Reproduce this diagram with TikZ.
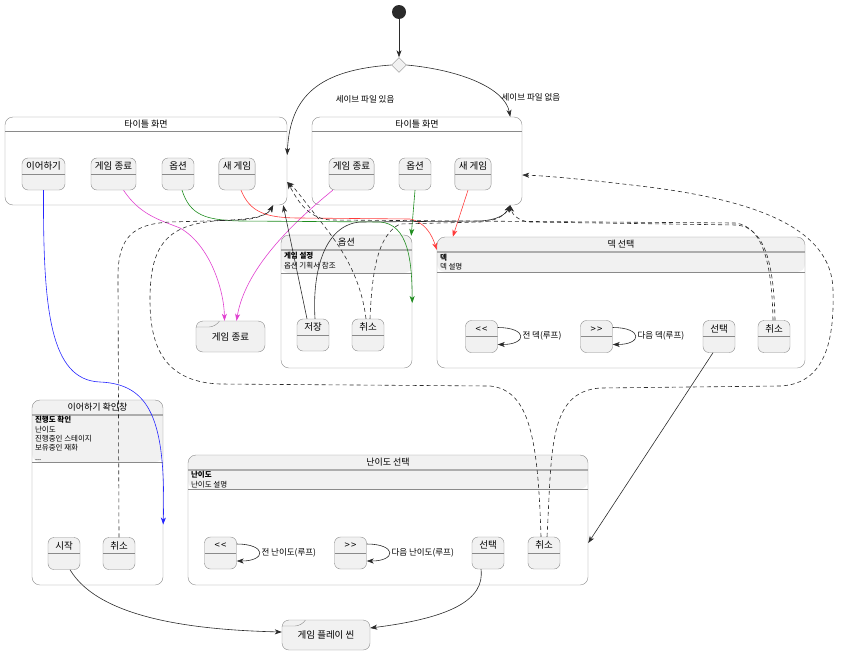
\documentclass[tikz,border=0pt]{standalone}
\usepackage{fontspec}
\setmainfont{Noto Sans CJK KR}
\usepackage{xcolor}
\usetikzlibrary{positioning,arrows.meta,shapes.geometric}

\definecolor{stfill}{HTML}{F1F1F1}
\definecolor{stline}{HTML}{8A8A8A}
\definecolor{lnk}{HTML}{2B2B2B}
\definecolor{lnkblue}{HTML}{2626FF}
\definecolor{lnkpink}{HTML}{E040D0}
\definecolor{lnkgreen}{HTML}{1E8C1E}
\definecolor{lnkred}{HTML}{FF3B3B}

\begin{document}
\begin{tikzpicture}[x=1pt, y=-1pt, >={Stealth[length=7pt,width=5pt,inset=2pt]},
  st/.style={draw=stline, fill=stfill, rounded corners=6pt, font=\fontsize{9.5}{11}\selectfont,
    text height=9.5pt, text depth=18.5pt, inner xsep=4pt, inner ysep=2pt, minimum width=32pt,
    path picture={\draw[stline] (path picture bounding box.west) -- (path picture bounding box.east);}},
  grp/.style={draw=stline, rounded corners=8pt, inner sep=0pt},
  titlebar/.style={path picture={\draw[stline] ([yshift=-14pt]path picture bounding box.north west) -- ([yshift=-14pt]path picture bounding box.north east);}},
  hdr/.style={path picture={
    \fill[stfill] (path picture bounding box.north west) rectangle ([yshift=-#1]path picture bounding box.north east);
    \draw[stline!70] ([yshift=-14pt]path picture bounding box.north west) -- ([yshift=-14pt]path picture bounding box.north east);
    \draw[stline!70] ([yshift=-15.5pt]path picture bounding box.north west) -- ([yshift=-15.5pt]path picture bounding box.north east);
    \draw[stline] ([yshift=-#1]path picture bounding box.north west) -- ([yshift=-#1]path picture bounding box.north east);}},
  grptitle/.style={font=\fontsize{9}{10}\selectfont, inner sep=1pt},
  desc/.style={font=\fontsize{7.5}{9.3}\selectfont, align=left, anchor=north west, inner sep=0pt},
  lbl/.style={font=\fontsize{8.5}{10}\selectfont, inner sep=1pt},
  scene/.style={draw=stline, fill=stfill, rounded corners=7pt, font=\fontsize{9.5}{11}\selectfont, inner sep=0pt,
    path picture={\draw[stline] ([yshift=-6pt]path picture bounding box.north west) -- ++(20,0) -- ++(4,-7);}},
  startdot/.style={circle, fill=lnk, minimum size=14pt, inner sep=0pt},
  choice/.style={diamond, draw=stline, fill=stfill, minimum size=15pt, inner sep=0pt},
  tr/.style={draw=lnk, ->, line width=0.6pt},
  trback/.style={tr, dash pattern=on 4pt off 3pt}]
\useasboundingbox (0,0) rectangle (850,653);

% start + choice
\node[startdot] (start) at (399,12) {};
\node[choice] (pick) at (399,65) {};

% title screens
\node[grp, titlebar, minimum width=282pt, minimum height=88pt] (title1) at (146,161) {};
\node[grptitle] (title1name) at ([yshift=-7pt]title1.north) {타이틀 화면};
\node[st] (t1cont) at (43.5,174) {이어하기};
\node[st] (t1quit) at (113.5,174) {게임 종료};
\node[st] (t1opt) at (178,174) {옵션};
\node[st] (t1new) at (237,174) {새 게임};

\node[grp, titlebar, minimum width=210pt, minimum height=88pt] (title2) at (417,161) {};
\node[grptitle] (title2name) at ([yshift=-7pt]title2.north) {타이틀 화면};
\node[st] (t2quit) at (351.5,174) {게임 종료};
\node[st] (t2opt) at (415,174) {옵션};
\node[st] (t2new) at (473,174) {새 게임};

% options
\node[grp, hdr=38pt, minimum width=131pt, minimum height=133pt] (opt) at (346.5,301.5) {};
\node[grptitle] (optname) at ([yshift=-7pt]opt.north) {옵션};
\node[desc] (optdesc) at ([shift={(3pt,-17.5pt)}]opt.north west) {\textbf{게임 설정}\\옵션 기획서 참조};
\node[st] (osave) at (313,335) {저장};
\node[st] (ocnc) at (368,335) {취소};

% game over
\node[scene, minimum width=69pt, minimum height=31pt] (gameover) at (230.5,336.5) {게임 종료};

% deck select
\node[grp, hdr=35pt, minimum width=368pt, minimum height=131pt] (deck) at (621,302.5) {};
\node[grptitle] (deckname) at ([yshift=-7pt]deck.north) {덱 선택};
\node[desc] (deckdesc) at ([shift={(3pt,-17pt)}]deck.north west) {\textbf{덱}\\덱 설명};
\node[st] (dkprev) at (481.5,336.5) {<\kern1pt<};
\node[st] (dknext) at (596.5,336.5) {>\kern1pt>};
\node[st] (dksel) at (719,336.5) {선택};
\node[st] (dkcnc) at (774,336.5) {취소};

% continue confirm
\node[grp, hdr=62pt, minimum width=131pt, minimum height=185pt] (confirm) at (97.5,492.5) {};
\node[grptitle] (confirmname) at ([yshift=-7pt]confirm.north) {이어하기 확인창};
\node[desc] (confirmdesc) at ([shift={(3pt,-16.5pt)}]confirm.north west) {\textbf{진행도 확인}\\난이도\\진행중인 스테이지\\보유중인 재화\\...};
\node[st] (cstart) at (64,553.5) {시작};
\node[st] (ccnc) at (119,553.5) {취소};

% difficulty select
\node[grp, hdr=34pt, minimum width=400pt, minimum height=130pt] (diff) at (388,520) {};
\node[grptitle] (diffname) at ([yshift=-7pt]diff.north) {난이도 선택};
\node[desc] (diffdesc) at ([shift={(3pt,-16.5pt)}]diff.north west) {\textbf{난이도}\\난이도 설명};
\node[st] (dfprev) at (220.5,553) {<\kern1pt<};
\node[st] (dfnext) at (350.5,553) {>\kern1pt>};
\node[st] (dfsel) at (488,553) {선택};
\node[st] (dfcnc) at (544,553) {취소};

% game play
\node[scene, minimum width=88pt, minimum height=30pt] (gameplay) at (326,635) {게임 플레이 씬};

% transitions
\draw[tr] (start) -- (pick);
\draw[tr] (pick.west) .. controls (320,70) and (290,95) .. ([yshift=6pt]title1.east)
  node[lbl, pos=0.6, right=30pt] (savelbl) {세이브 파일 있음};
\draw[tr] (pick.east) .. controls (460,70) and (505,88) .. ([xshift=-12pt]title2.north east)
  node[lbl, pos=0.75, right=1pt] (nosavelbl) {세이브 파일 없음};

\draw[tr, draw=lnkblue] (t1cont.south) .. controls (43,310) and (50,380) .. (100,382)
  .. controls (150,384) and (166,420) .. ([yshift=-32pt]confirm.east);
\draw[tr, draw=lnkpink] ([xshift=10pt]t1quit.south) .. controls (140,215) and (160,220) .. (180,228)
  .. controls (210,245) and (224,290) .. ([xshift=-6pt]gameover.north);
\draw[tr, draw=lnkpink] ([xshift=4pt]t2quit.south west) .. controls (290,225) and (245,270) .. ([xshift=6pt]gameover.north);
\draw[tr, draw=lnkgreen] ([xshift=4pt]t1opt.south) .. controls (190,215) and (205,220) .. (240,221) -- (380,222)
  .. controls (408,224) and (412,260) .. ([yshift=-1.5pt]opt.east);
\draw[tr, draw=lnkgreen] (t2opt.south) -- ([xshift=-1pt,yshift=-1pt]opt.north east);
\draw[tr, draw=lnkred] ([xshift=4pt]t1new.south) .. controls (250,212) and (265,218) .. (300,218) -- (410,219)
  .. controls (425,222) and (432,235) .. ([yshift=-13pt]deck.north west);
\draw[tr, draw=lnkred] ([xshift=-5pt]t2new.south) -- ([xshift=16pt]deck.north west);

\draw[tr] ([xshift=-6pt]osave.north) -- ([xshift=-4pt]title1.south east);
\draw[tr] ([xshift=2pt]osave.north) .. controls (312,270) and (325,225) .. (360,222) -- (480,221)
  .. controls (497,220) and (505,215) .. ([xshift=-12pt]title2.south east);
\draw[trback] ([xshift=-2pt]ocnc.north) .. controls (360,270) and (335,240) .. (318,218)
  .. controls (305,202) and (295,188) .. ([yshift=-21pt]title1.east);
\draw[trback] ([xshift=2pt]ocnc.north) .. controls (372,270) and (378,235) .. (400,224) -- (480,222)
  .. controls (497,221) and (505,215) .. ([xshift=-12pt]title2.south east);

\draw[trback] ([xshift=-1pt]dkcnc.north) .. controls (772,270) and (765,226) .. (735,223) -- (330,220)
  .. controls (305,218) and (295,195) .. ([yshift=-21pt]title1.east);
\draw[trback] ([xshift=1pt]dkcnc.north) .. controls (774,270) and (767,228) .. (737,225) -- (530,222)
  .. controls (518,221) and (512,214) .. ([xshift=-12pt]title2.south east);
\draw[tr] ([xshift=-6pt]dksel.south) -- ([yshift=-23pt]diff.east);

\draw[trback] (ccnc.north) -- (118,280) .. controls (117,235) and (135,224) .. (170,222) -- (240,220)
  .. controls (258,219) and (268,214) .. ([xshift=-14pt]title1.south east);
\draw[trback] ([xshift=-3pt]dfcnc.north) .. controls (538,440) and (530,390) .. (490,386) -- (220,384)
  .. controls (160,382) and (150,340) .. (150,300) .. controls (150,240) and (170,222) .. (230,220)
  .. controls (255,219) and (268,215) .. ([xshift=-14pt]title1.south east);
\draw[trback] ([xshift=3pt]dfcnc.north) .. controls (552,450) and (548,392) .. (600,388) -- (780,386)
  .. controls (830,384) and (834,330) .. (833,290) .. controls (832,230) and (760,200) .. (640,186)
  .. controls (590,180) and (550,176) .. ([yshift=-14pt]title2.east);

\draw[tr] ([xshift=6pt]cstart.south) .. controls (100,620) and (200,630) .. ([yshift=3pt]gameplay.west);
\draw[tr] ([xshift=-7pt]dfsel.south) .. controls (485,600) and (450,618) .. ([yshift=7pt]gameplay.east);

% self loops
\draw[tr] ([yshift=9pt]dkprev.east) .. controls +(30,0) and +(30,0) .. ([yshift=-8pt]dkprev.east)
  node[lbl, pos=0.5, right=1pt] (dkprevlbl) {전 덱(루프)};
\draw[tr] ([yshift=9pt]dknext.east) .. controls +(30,0) and +(30,0) .. ([yshift=-8pt]dknext.east)
  node[lbl, pos=0.5, right=1pt] (dknextlbl) {다음 덱(루프)};
\draw[tr] ([yshift=9pt]dfprev.east) .. controls +(30,0) and +(30,0) .. ([yshift=-8pt]dfprev.east)
  node[lbl, pos=0.5, right=1pt] (dfprevlbl) {전 난이도(루프)};
\draw[tr] ([yshift=9pt]dfnext.east) .. controls +(30,0) and +(30,0) .. ([yshift=-8pt]dfnext.east)
  node[lbl, pos=0.5, right=1pt] (dfnextlbl) {다음 난이도(루프)};
\end{tikzpicture}
\end{document}
